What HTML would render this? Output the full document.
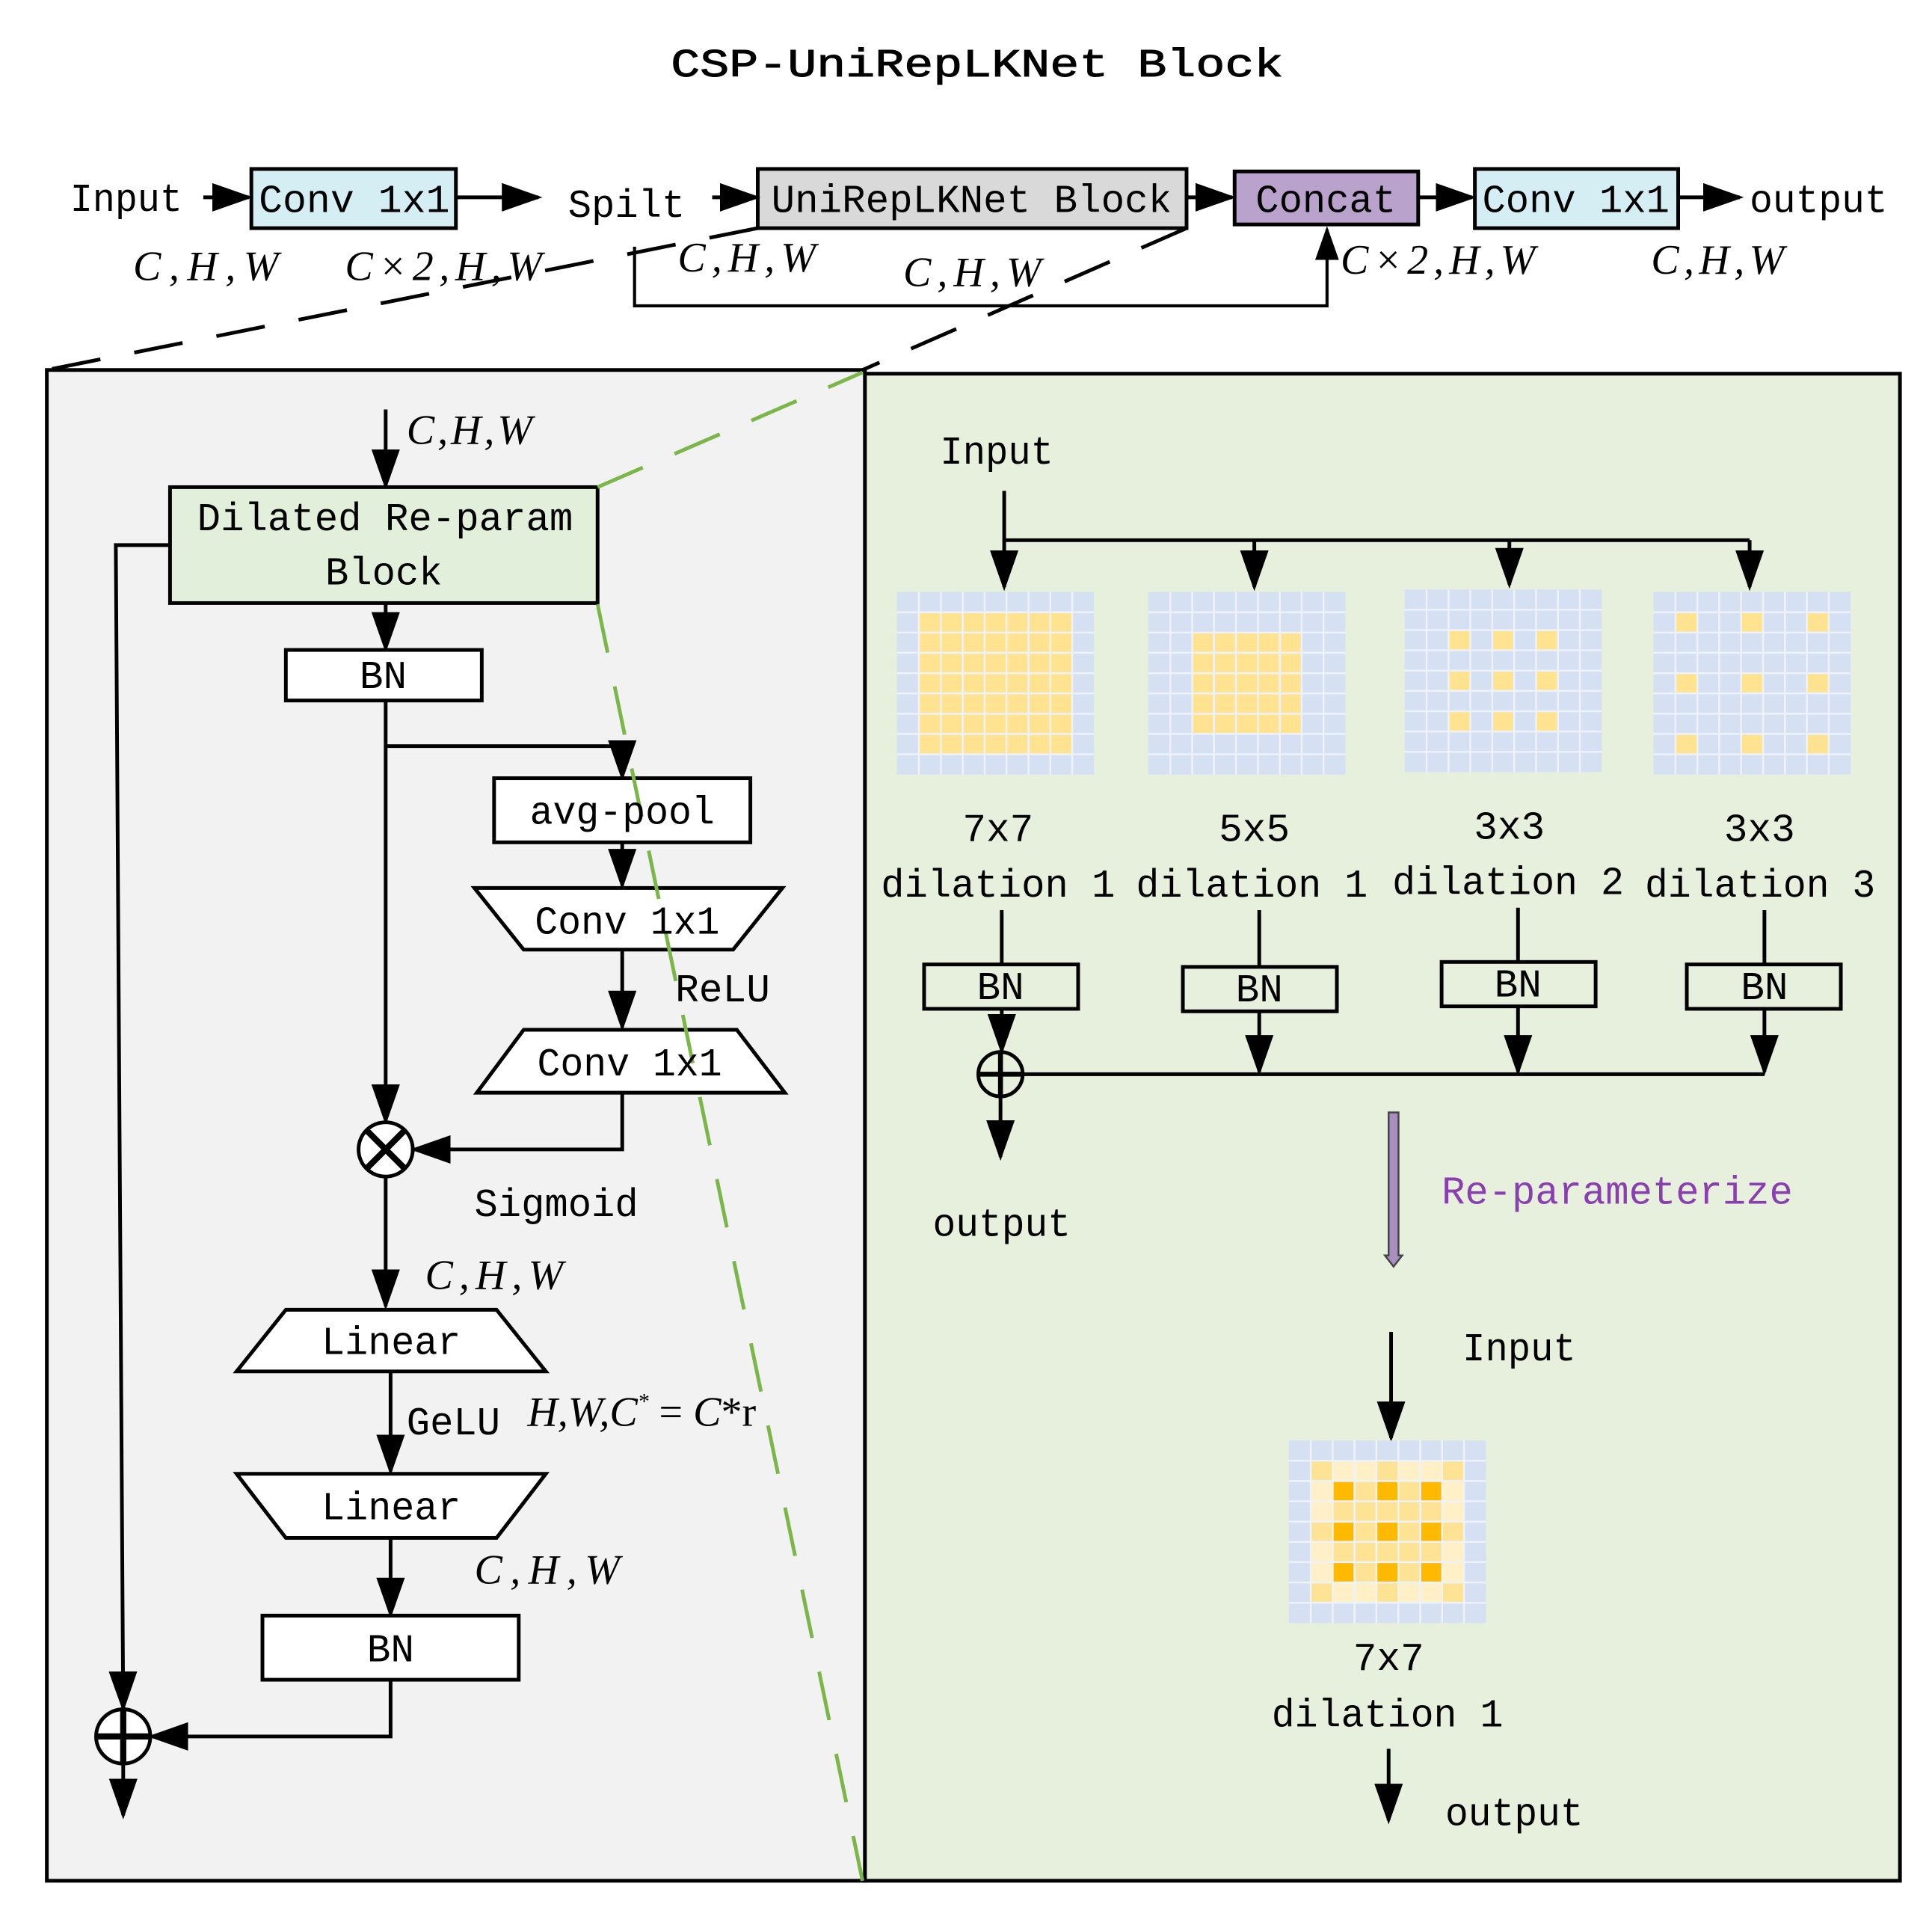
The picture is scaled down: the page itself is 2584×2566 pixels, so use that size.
<!DOCTYPE html>
<html><head><meta charset="utf-8"><style>html,body{margin:0;padding:0;background:#fff}svg{display:block}
.m{font-family:"Liberation Mono",monospace;font-size:32px;fill:#000}
.i{font-family:"Liberation Serif",serif;font-style:italic;font-size:34px;fill:#000}
</style></head><body>
<svg width="2584" height="2566" viewBox="0 0 1568 1556" preserveAspectRatio="none" xmlns="http://www.w3.org/2000/svg">
<defs>
<marker id="b" viewBox="0 0 10 10" refX="9" refY="5" markerWidth="11" markerHeight="11" orient="auto" markerUnits="strokeWidth"><path d="M0,1.5L10,5L0,8.5z"/></marker>
<g id="gl" stroke="#eef3fb" stroke-width="1.5">
<path d="M17.8,0V148M35.6,0V148M53.3,0V148M71.1,0V148M88.9,0V148M106.7,0V148M124.4,0V148M142.2,0V148"/>
<path d="M0,16.4H160M0,32.9H160M0,49.3H160M0,65.8H160M0,82.2H160M0,98.7H160M0,115.1H160M0,131.6H160"/>
</g>
</defs>
<rect width="1568" height="1556" fill="#fff"/>
<text x="793" y="62" class="m" font-size="40" text-anchor="middle" textLength="497" lengthAdjust="spacingAndGlyphs" stroke="#000" stroke-width="0.6">CSP-UniRepLKNet Block</text>

<g stroke="#000" stroke-width="3" fill="none">
<rect x="204" y="137" width="166" height="48" fill="#d5eef4"/>
<rect x="615" y="137" width="348" height="48" fill="#d9d9d9"/>
<rect x="1002" y="139" width="149" height="43" fill="#b9a2cc"/>
<rect x="1197" y="137" width="165" height="48" fill="#d5eef4"/>
<line x1="165" y1="160" x2="202" y2="160" marker-end="url(#b)"/>
<line x1="370" y1="160" x2="437" y2="160" marker-end="url(#b)"/>
<line x1="578" y1="160" x2="614" y2="160" marker-end="url(#b)"/>
<line x1="963" y1="160" x2="1000" y2="160" marker-end="url(#b)"/>
<line x1="1151" y1="160" x2="1195" y2="160" marker-end="url(#b)"/>
<line x1="1362" y1="160" x2="1412" y2="160" marker-end="url(#b)"/>
<polyline points="515,200 515,248 1077,248 1077,186" marker-end="url(#b)" stroke-width="2.5"/>
<line x1="615" y1="185" x2="38" y2="300" stroke-dasharray="40,28"/>
<line x1="963" y1="185" x2="700" y2="300" stroke-dasharray="40,28"/>
</g>
<text x="57" y="171" class="m" textLength="91" lengthAdjust="spacingAndGlyphs">Input</text>
<text x="210" y="172" class="m" textLength="155" lengthAdjust="spacingAndGlyphs">Conv 1x1</text>
<text x="461" y="176" class="m" textLength="95" lengthAdjust="spacingAndGlyphs">Spilt</text>
<text x="626" y="172" class="m" textLength="325" lengthAdjust="spacingAndGlyphs">UniRepLKNet Block</text>
<text x="1019" y="172" class="m" textLength="114" lengthAdjust="spacingAndGlyphs">Concat</text>
<text x="1203" y="172" class="m" textLength="152" lengthAdjust="spacingAndGlyphs">Conv 1x1</text>
<text x="1420" y="172" class="m" textLength="112" lengthAdjust="spacingAndGlyphs">output</text>
<text x="108" y="227" class="i" textLength="118" lengthAdjust="spacing">C,H,W</text>
<text x="280" y="227" class="i" textLength="160" lengthAdjust="spacing">C×2,H,W</text>
<text x="550" y="220" class="i" textLength="112" lengthAdjust="spacing">C,H,W</text>
<text x="733" y="232" class="i" textLength="112" lengthAdjust="spacing">C,H,W</text>
<text x="1088" y="222" class="i" textLength="158" lengthAdjust="spacing">C×2,H,W</text>
<text x="1340" y="222" class="i" textLength="108" lengthAdjust="spacing">C,H,W</text>

<rect x="38" y="300" width="664" height="1225" fill="#f2f2f2" stroke="#000" stroke-width="3"/>
<rect x="702" y="303" width="840" height="1222" fill="#e7efdd" stroke="#000" stroke-width="3"/>

<g stroke="#000" stroke-width="3" fill="none">
<line x1="313" y1="332" x2="313" y2="394" marker-end="url(#b)"/>
<rect x="138" y="395" width="347" height="94" fill="#e2efda"/>
<line x1="313" y1="489" x2="313" y2="526" marker-end="url(#b)"/>
<rect x="232" y="527" width="159" height="41" fill="#fff"/>
<line x1="313" y1="568" x2="313" y2="909" marker-end="url(#b)"/>
<polyline points="313,605 505,605 505,630" marker-end="url(#b)"/>
<rect x="401" y="631" width="208" height="52" fill="#fff"/>
<line x1="505" y1="683" x2="505" y2="718" marker-end="url(#b)"/>
<polygon points="385,720 635,720 595,770 425,770" fill="#fff"/>
<line x1="505" y1="770" x2="505" y2="833" marker-end="url(#b)"/>
<polygon points="425,835 598,835 637,886 387,886" fill="#fff"/>
<polyline points="505,886 505,932 336,932" marker-end="url(#b)"/>
<circle cx="313" cy="932" r="22" fill="#fff"/>
<path d="M298,917L328,947M328,917L298,947" stroke-width="5"/>
<line x1="313" y1="954" x2="313" y2="1059" marker-end="url(#b)"/>
<polygon points="232,1062 403,1062 443,1112 192,1112" fill="#fff"/>
<line x1="317" y1="1112" x2="317" y2="1193" marker-end="url(#b)"/>
<polygon points="192,1195 443,1195 403,1247 232,1247" fill="#fff"/>
<line x1="317" y1="1247" x2="317" y2="1309" marker-end="url(#b)"/>
<rect x="213" y="1310" width="208" height="52" fill="#fff"/>
<polyline points="317,1362 317,1408 123,1408" marker-end="url(#b)"/>
<polyline points="138,442 94,442 100,1385" marker-end="url(#b)"/>
<circle cx="100" cy="1408" r="22" fill="#fff"/>
<path d="M78,1408H122M100,1386V1430" stroke-width="5"/>
<line x1="100" y1="1430" x2="100" y2="1472" marker-end="url(#b)"/>
</g>
<g stroke="#7ab648" stroke-width="3" stroke-dasharray="40,28">
<line x1="485" y1="395" x2="700" y2="302"/>
<line x1="485" y1="490" x2="700" y2="1525"/>
</g>
<text x="330" y="360" class="i" textLength="102" lengthAdjust="spacing">C,H,W</text>
<text x="160" y="430" class="m" textLength="305" lengthAdjust="spacingAndGlyphs">Dilated Re-param</text>
<text x="264" y="474" class="m" textLength="95" lengthAdjust="spacingAndGlyphs">Block</text>
<text x="311" y="558" class="m" text-anchor="middle">BN</text>
<text x="430" y="668" class="m" textLength="150" lengthAdjust="spacingAndGlyphs">avg-pool</text>
<text x="434" y="757" class="m" textLength="150" lengthAdjust="spacingAndGlyphs">Conv 1x1</text>
<text x="548" y="812" class="m" textLength="77" lengthAdjust="spacingAndGlyphs">ReLU</text>
<text x="436" y="872" class="m" textLength="150" lengthAdjust="spacingAndGlyphs">Conv 1x1</text>
<text x="385" y="986" class="m" textLength="133" lengthAdjust="spacingAndGlyphs">Sigmoid</text>
<text x="345" y="1045" class="i" textLength="112" lengthAdjust="spacing">C,H,W</text>
<text x="261" y="1098" class="m" textLength="113" lengthAdjust="spacingAndGlyphs">Linear</text>
<text x="330" y="1163" class="m" textLength="76" lengthAdjust="spacingAndGlyphs">GeLU</text>
<text x="428" y="1156" class="i">H,W,C<tspan font-size="18" dy="-14">*</tspan><tspan dy="14" font-style="normal"> = </tspan>C<tspan font-style="normal">*r</tspan></text>
<text x="261" y="1232" class="m" textLength="113" lengthAdjust="spacingAndGlyphs">Linear</text>
<text x="385" y="1284" class="i" textLength="118" lengthAdjust="spacing">C,H,W</text>
<text x="317" y="1347" class="m" text-anchor="middle">BN</text>

<g stroke="#000" stroke-width="3" fill="none">
<line x1="815" y1="398" x2="815" y2="476" marker-end="url(#b)"/>
<line x1="815" y1="438" x2="1420" y2="438"/>
<line x1="1018" y1="438" x2="1018" y2="476" marker-end="url(#b)"/>
<line x1="1225" y1="438" x2="1225" y2="474" marker-end="url(#b)"/>
<line x1="1420" y1="438" x2="1420" y2="476" marker-end="url(#b)"/>
</g>
<g transform="translate(728,480)"><rect width="160" height="148" fill="#d6e0f3"/><rect x="17.8" y="16.4" width="124.4" height="115.1" fill="#ffe391"/><use href="#gl"/></g>
<g transform="translate(932,480)"><rect width="160" height="148" fill="#d6e0f3"/><rect x="35.6" y="32.9" width="88.9" height="82.2" fill="#ffe391"/><use href="#gl"/></g>
<g transform="translate(1140,478)"><rect width="160" height="148" fill="#d6e0f3"/><g fill="#ffe391">
<rect x="35.6" y="32.9" width="17.8" height="16.4"/><rect x="71.1" y="32.9" width="17.8" height="16.4"/><rect x="106.7" y="32.9" width="17.8" height="16.4"/>
<rect x="35.6" y="65.8" width="17.8" height="16.4"/><rect x="71.1" y="65.8" width="17.8" height="16.4"/><rect x="106.7" y="65.8" width="17.8" height="16.4"/>
<rect x="35.6" y="98.7" width="17.8" height="16.4"/><rect x="71.1" y="98.7" width="17.8" height="16.4"/><rect x="106.7" y="98.7" width="17.8" height="16.4"/></g><use href="#gl"/></g>
<g transform="translate(1342,480)"><rect width="160" height="148" fill="#d6e0f3"/><g fill="#ffe391">
<rect x="17.8" y="16.4" width="17.8" height="16.4"/><rect x="71.1" y="16.4" width="17.8" height="16.4"/><rect x="124.4" y="16.4" width="17.8" height="16.4"/>
<rect x="17.8" y="65.8" width="17.8" height="16.4"/><rect x="71.1" y="65.8" width="17.8" height="16.4"/><rect x="124.4" y="65.8" width="17.8" height="16.4"/>
<rect x="17.8" y="115.1" width="17.8" height="16.4"/><rect x="71.1" y="115.1" width="17.8" height="16.4"/><rect x="124.4" y="115.1" width="17.8" height="16.4"/></g><use href="#gl"/></g>

<text x="810" y="682" class="m" text-anchor="middle">7x7</text>
<text x="715" y="727" class="m" textLength="190" lengthAdjust="spacingAndGlyphs">dilation 1</text>
<text x="1018" y="682" class="m" text-anchor="middle">5x5</text>
<text x="922" y="727" class="m" textLength="188" lengthAdjust="spacingAndGlyphs">dilation 1</text>
<text x="1225" y="680" class="m" text-anchor="middle">3x3</text>
<text x="1130" y="725" class="m" textLength="188" lengthAdjust="spacingAndGlyphs">dilation 2</text>
<text x="1428" y="682" class="m" text-anchor="middle">3x3</text>
<text x="1335" y="727" class="m" textLength="187" lengthAdjust="spacingAndGlyphs">dilation 3</text>

<g stroke="#000" stroke-width="3" fill="none">
<line x1="813" y1="738" x2="813" y2="782"/><line x1="1022" y1="738" x2="1022" y2="784"/><line x1="1232" y1="736" x2="1232" y2="780"/><line x1="1432" y1="738" x2="1432" y2="782"/>
<rect x="750" y="782" width="125" height="36"/>
<rect x="960" y="784" width="125" height="36"/>
<rect x="1170" y="780" width="125" height="36"/>
<rect x="1369" y="782" width="125" height="36"/>
<line x1="813" y1="818" x2="813" y2="852" marker-end="url(#b)"/>
<line x1="1022" y1="820" x2="1022" y2="869" marker-end="url(#b)"/>
<line x1="1232" y1="816" x2="1232" y2="869" marker-end="url(#b)"/>
<line x1="1432" y1="818" x2="1432" y2="869" marker-end="url(#b)"/>
<line x1="830" y1="871" x2="1432" y2="871"/>
<circle cx="812" cy="871" r="18"/>
<path d="M794,871H830M812,853V889" stroke-width="4"/>
<line x1="812" y1="889" x2="812" y2="938" marker-end="url(#b)"/>
<line x1="1129" y1="1080" x2="1129" y2="1166" marker-end="url(#b)"/>
<line x1="1127" y1="1418" x2="1127" y2="1476" marker-end="url(#b)"/>
</g>
<text x="812" y="810" class="m" text-anchor="middle">BN</text>
<text x="1022" y="812" class="m" text-anchor="middle">BN</text>
<text x="1232" y="808" class="m" text-anchor="middle">BN</text>
<text x="1432" y="810" class="m" text-anchor="middle">BN</text>
<text x="763" y="376" class="m" textLength="92" lengthAdjust="spacingAndGlyphs">Input</text>
<text x="757" y="1002" class="m" textLength="112" lengthAdjust="spacingAndGlyphs">output</text>
<path d="M1127,902H1135V1018L1138,1018L1131,1027L1124,1018L1127,1018Z" fill="#a98fbf" stroke="#444" stroke-width="1.5"/>
<text x="1170" y="976" class="m" style="fill:#8a3fb0" textLength="285" lengthAdjust="spacingAndGlyphs">Re-parameterize</text>
<text x="1187" y="1103" class="m" textLength="92" lengthAdjust="spacingAndGlyphs">Input</text>
<g transform="translate(1046,1168)"><rect width="160" height="148" fill="#d6e0f3"/>
<rect x="17.8" y="16.4" width="124.4" height="115.1" fill="#fff0c8"/>
<rect x="35.6" y="32.9" width="88.9" height="82.2" fill="#ffe395"/>
<g fill="#ffe395"><rect x="17.8" y="16.4" width="17.8" height="16.4"/><rect x="71.1" y="16.4" width="17.8" height="16.4"/><rect x="124.4" y="16.4" width="17.8" height="16.4"/>
<rect x="17.8" y="65.8" width="17.8" height="16.4"/><rect x="124.4" y="65.8" width="17.8" height="16.4"/>
<rect x="17.8" y="115.1" width="17.8" height="16.4"/><rect x="71.1" y="115.1" width="17.8" height="16.4"/><rect x="124.4" y="115.1" width="17.8" height="16.4"/></g>
<g fill="#ffb900"><rect x="35.6" y="32.9" width="17.8" height="16.4"/><rect x="71.1" y="32.9" width="17.8" height="16.4"/><rect x="106.7" y="32.9" width="17.8" height="16.4"/>
<rect x="35.6" y="65.8" width="17.8" height="16.4"/><rect x="71.1" y="65.8" width="17.8" height="16.4"/><rect x="106.7" y="65.8" width="17.8" height="16.4"/>
<rect x="35.6" y="98.7" width="17.8" height="16.4"/><rect x="71.1" y="98.7" width="17.8" height="16.4"/><rect x="106.7" y="98.7" width="17.8" height="16.4"/></g>
<use href="#gl"/></g>
<text x="1127" y="1354" class="m" text-anchor="middle">7x7</text>
<text x="1032" y="1400" class="m" textLength="188" lengthAdjust="spacingAndGlyphs">dilation 1</text>
<text x="1173" y="1480" class="m" textLength="112" lengthAdjust="spacingAndGlyphs">output</text>
</svg>
</body></html>
